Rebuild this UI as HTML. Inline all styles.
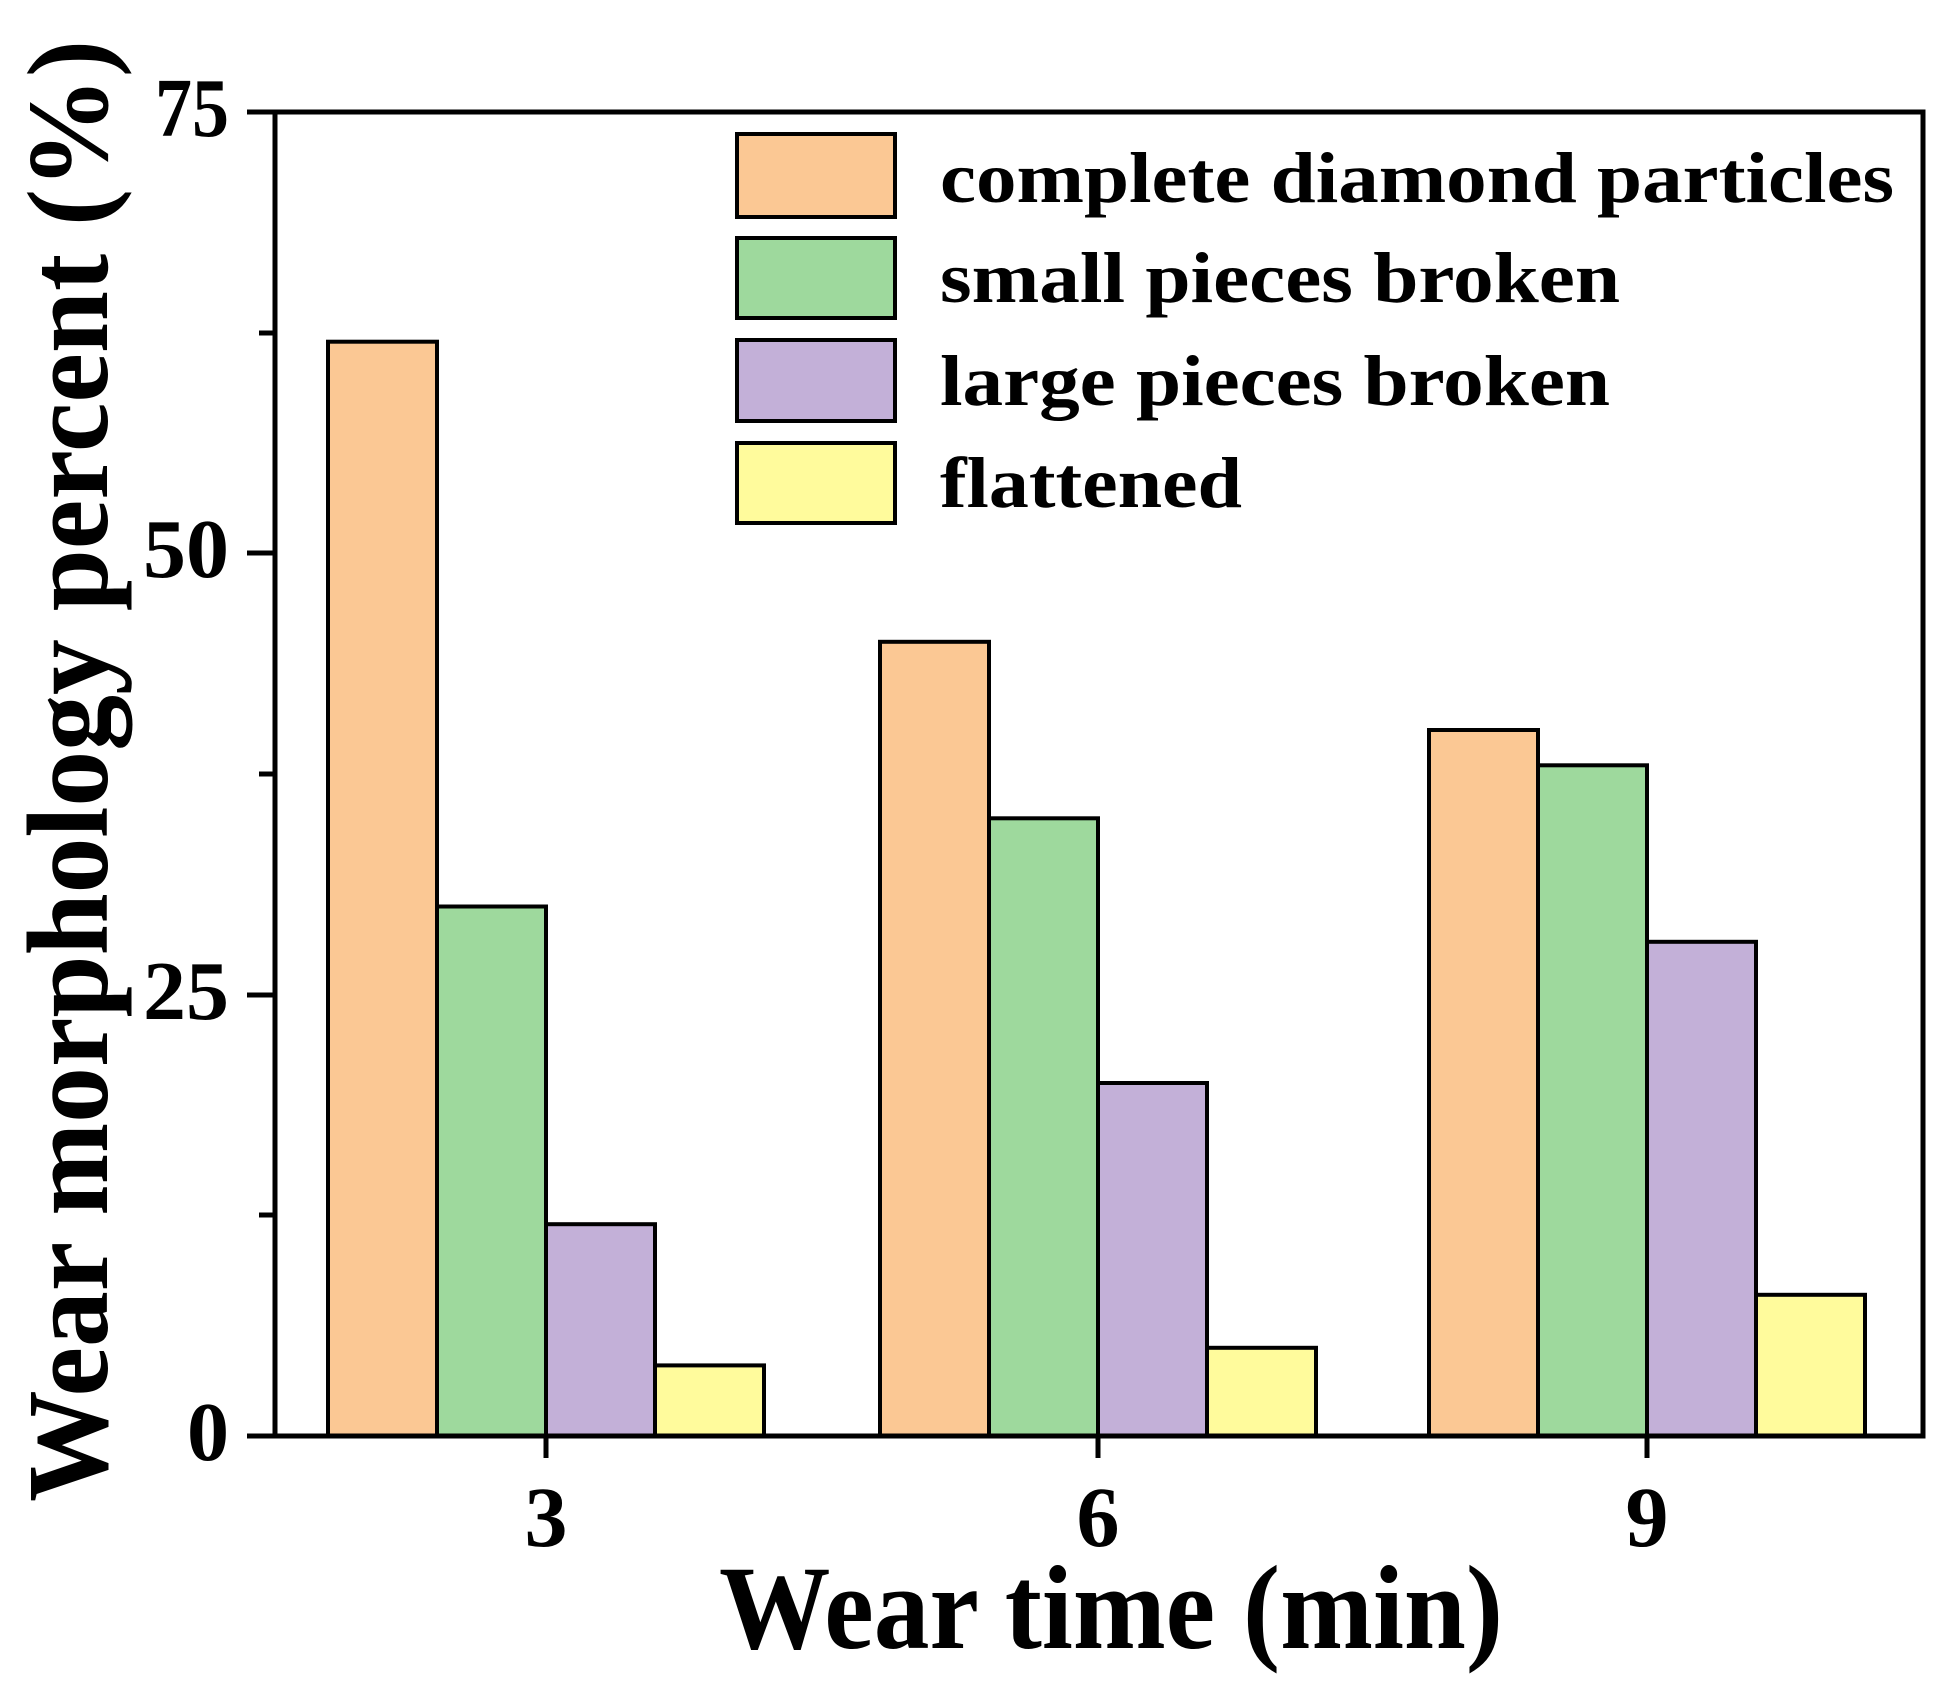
<!DOCTYPE html>
<html><head><meta charset="utf-8"><style>html,body{margin:0;padding:0;background:#fff}</style></head>
<body>
<svg width="1950" height="1689" viewBox="0 0 1950 1689" xmlns="http://www.w3.org/2000/svg" font-family="'Liberation Serif', serif" font-weight="bold">
<rect width="1950" height="1689" fill="#fff"/>
<g stroke="#000" stroke-width="4">
<!-- group 3 -->
<rect x="328" y="341.7" width="109" height="1094.3" fill="#FBC894"/>
<rect x="437" y="906.5" width="109" height="529.5" fill="#9ED99D"/>
<rect x="546" y="1224.2" width="109" height="211.8" fill="#C3B0D8"/>
<rect x="655" y="1365.4" width="109" height="70.6" fill="#FFFB9C"/>
<!-- group 6 -->
<rect x="880" y="641.8" width="109" height="794.2" fill="#FBC894"/>
<rect x="989" y="818.3" width="109" height="617.7" fill="#9ED99D"/>
<rect x="1098" y="1083" width="109" height="353" fill="#C3B0D8"/>
<rect x="1207" y="1347.8" width="109" height="88.2" fill="#FFFB9C"/>
<!-- group 9 -->
<rect x="1429" y="730" width="109" height="706" fill="#FBC894"/>
<rect x="1538" y="765.3" width="109" height="670.7" fill="#9ED99D"/>
<rect x="1647" y="941.8" width="109" height="494.2" fill="#C3B0D8"/>
<rect x="1756" y="1294.8" width="109" height="141.2" fill="#FFFB9C"/>
</g>
<g stroke="#000" stroke-width="5" fill="none">
<rect x="275" y="112" width="1648" height="1324"/>
<line x1="247" y1="112" x2="275" y2="112"/>
<line x1="247" y1="553" x2="275" y2="553"/>
<line x1="247" y1="995" x2="275" y2="995"/>
<line x1="247" y1="1436" x2="275" y2="1436"/>
<line x1="259" y1="333" x2="275" y2="333"/>
<line x1="259" y1="774" x2="275" y2="774"/>
<line x1="259" y1="1215" x2="275" y2="1215"/>
<line x1="546" y1="1436" x2="546" y2="1458"/>
<line x1="1098" y1="1436" x2="1098" y2="1458"/>
<line x1="1647" y1="1436" x2="1647" y2="1458"/>
</g>
<g font-size="84" text-anchor="end">
<text x="229" y="136" textLength="74" lengthAdjust="spacingAndGlyphs">75</text>
<text x="229" y="577" textLength="86" lengthAdjust="spacingAndGlyphs">50</text>
<text x="229" y="1019" textLength="86" lengthAdjust="spacingAndGlyphs">25</text>
<text x="229" y="1460">0</text>
</g>
<g font-size="86" text-anchor="middle">
<text x="546" y="1546">3</text>
<text x="1098" y="1546">6</text>
<text x="1647" y="1546">9</text>
</g>
<text x="719" y="1648" font-size="120" textLength="784" lengthAdjust="spacingAndGlyphs">Wear time (min)</text>
<text transform="translate(107,1502) rotate(-90)" font-size="116" textLength="1462" lengthAdjust="spacingAndGlyphs">Wear morphology percent (%)</text>
<g stroke="#000" stroke-width="4">
<rect x="737" y="134" width="158" height="83" fill="#FBC894"/>
<rect x="737" y="238" width="158" height="80" fill="#9ED99D"/>
<rect x="737" y="340" width="158" height="81" fill="#C3B0D8"/>
<rect x="737" y="443" width="158" height="80" fill="#FFFB9C"/>
</g>
<g font-size="72">
<text x="940" y="202" textLength="954" lengthAdjust="spacingAndGlyphs">complete diamond particles</text>
<text x="940" y="302" textLength="680" lengthAdjust="spacingAndGlyphs">small pieces broken</text>
<text x="940" y="405" textLength="670" lengthAdjust="spacingAndGlyphs">large pieces broken</text>
<text x="940" y="507" textLength="302" lengthAdjust="spacingAndGlyphs">flattened</text>
</g>
</svg>
</body></html>
